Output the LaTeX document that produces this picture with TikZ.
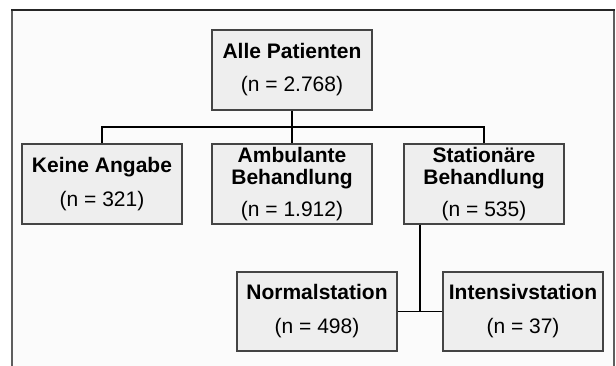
\documentclass[tikz,border=0pt]{standalone}
\usepackage{fontspec}
\setmainfont{Liberation Sans}
\definecolor{boxfill}{HTML}{EEEEEE}
\definecolor{boxline}{HTML}{444444}
\definecolor{framecol}{HTML}{5E5E5E}
\definecolor{innerbg}{HTML}{FBFBFB}
\begin{document}
\begin{tikzpicture}[x=1pt,y=-1pt,
  box/.style={draw=boxline,fill=boxfill,line width=1.6pt,minimum width=160pt,inner sep=0pt,align=center,
    font=\fontsize{21pt}{22pt}\selectfont},
  link/.style={draw=black,line width=1.8pt},
  framestyle/.style={draw=framecol,line width=2.4pt},
  frametop/.style={draw=black!85,line width=1.6pt}]
\useasboundingbox (0,0) rectangle (616,365);
\fill[white] (0,0) rectangle (616,365);
\fill[innerbg] (12,10) rectangle (614,380);
\draw[framestyle] (12,380) -- (12,10);
\draw[framestyle] (614,10) -- (614,380);
\draw[frametop] (11,10) -- (615,10);
\node[box,minimum height=80pt] (alle) at (292,70) {\textbf{Alle Patienten}\\[11pt](n = 2.768)};
\node[box,minimum height=80pt] (keine) at (102,184) {\textbf{Keine Angabe}\\[12pt](n = 321)};
\node[box,minimum height=80pt] (amb) at (292,184) {\textbf{Ambulante}\\\textbf{Behandlung}\\[10pt](n = 1.912)};
\node[box,minimum height=80pt] (stat) at (484,184) {\textbf{Stationäre}\\\textbf{Behandlung}\\[10pt](n = 535)};
\node[box,minimum height=79pt] (normal) at (317,311.5) {\textbf{Normalstation}\\[12pt](n = 498)};
\node[box,minimum height=79pt] (intens) at (523,311.5) {\textbf{Intensivstation}\\[12pt](n = 37)};
\coordinate (bus) at (292,127);
\coordinate (j) at (420,311.5);
\draw[link] (alle.south) -- (amb.north);
\draw[link] (keine.north) |- (bus) -| (stat.north);
\draw[link] (stat.south -| j) -- (j);
\draw[link] (normal.east) -- (intens.west);
\end{tikzpicture}
\end{document}
